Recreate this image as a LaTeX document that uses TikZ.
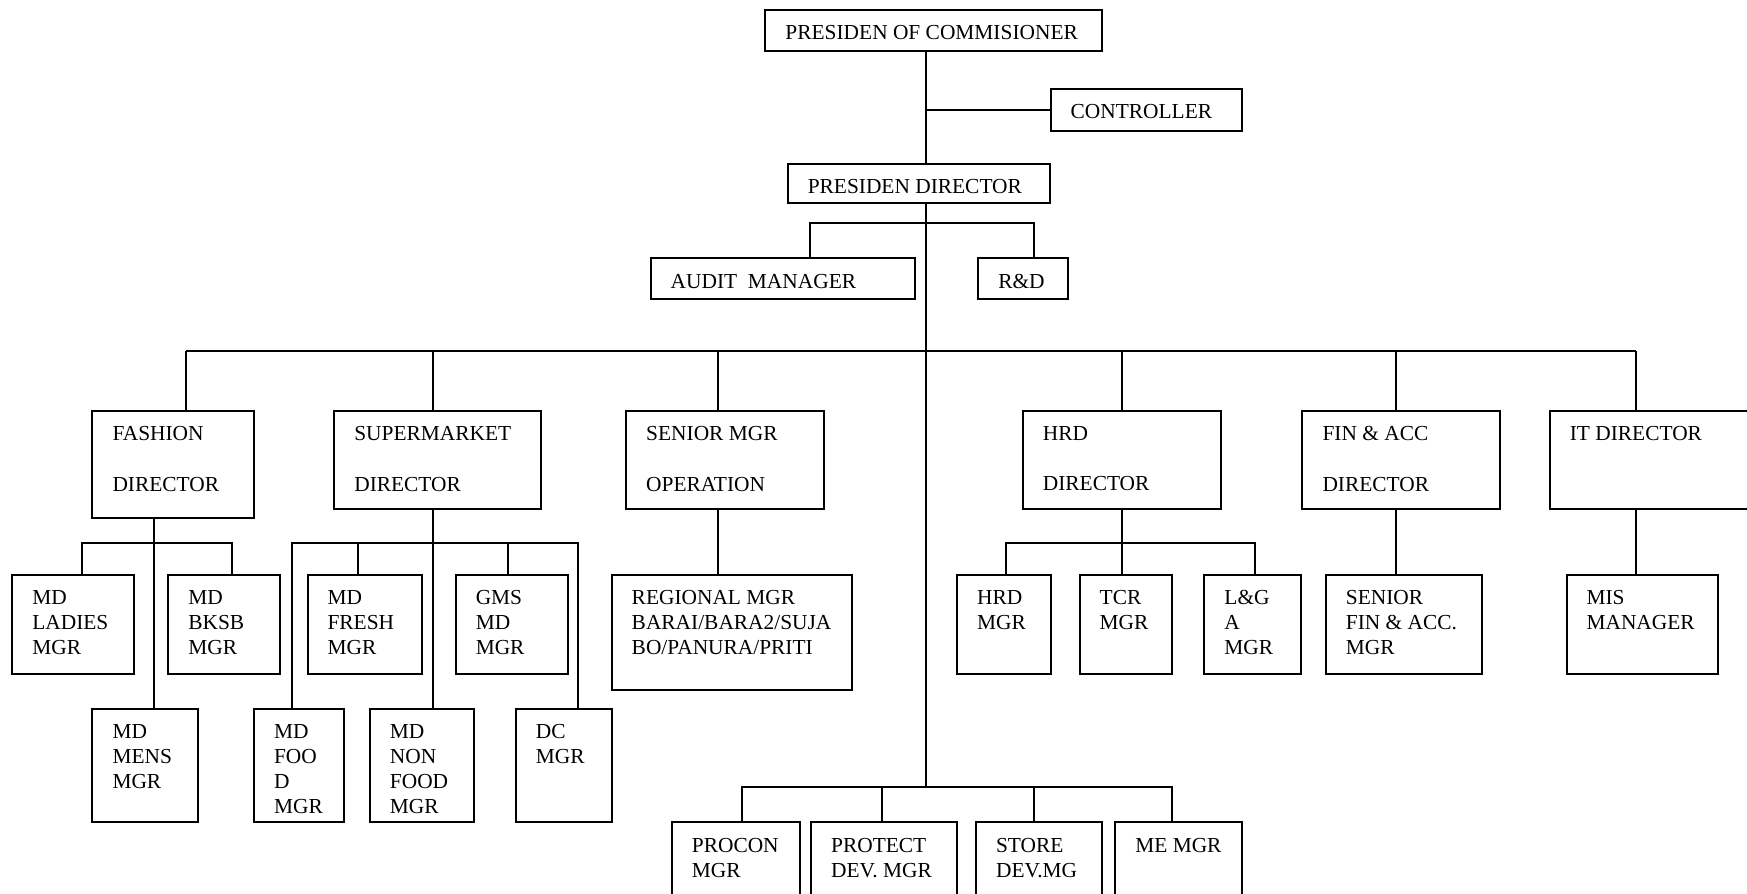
\documentclass[tikz,border=0pt]{standalone}
\usepackage{fontspec}
\setmainfont{Liberation Serif}
\tikzset{
  orgframe/.style={draw, line width=0.9pt, inner sep=0pt, outer sep=0pt, anchor=north west, fill=white},
  orglabel/.style={anchor=north west, inner sep=0pt, outer sep=0pt, align=left, font=\fontsize{9.6}{11.25}\selectfont},
  conn/.style={draw, line width=0.9pt}
}
\newcommand\orgbox[6]{%
  \node[orgframe, minimum width={(#4-#2)*0.5pt}, minimum height={(#5-#3)*0.5pt}] (#1) at (#2,#3) {};
  \node[orglabel] (#1-t) at ([shift={(18,14)}]#1.north west) {#6};}
\begin{document}
\begin{tikzpicture}[x=0.5pt,y=-0.5pt]
\useasboundingbox (0,0) rectangle (1568,802);
% boxes
\orgbox{pc}{687}{9}{989}{46}{PRESIDEN OF COMMISIONER}
\orgbox{ctrl}{943}{80}{1115}{118}{CONTROLLER}
\orgbox{pd}{707}{147}{942}{182}{PRESIDEN DIRECTOR}
\orgbox{audit}{584}{232}{821}{268}{AUDIT\ \ MANAGER}
\orgbox{rd}{878}{232}{959}{268}{R\&D}
\orgbox{fashion}{83}{369}{228}{465}{FASHION\\~\\DIRECTOR}
\orgbox{super}{300}{369}{486}{457}{SUPERMARKET\\~\\DIRECTOR}
\orgbox{senior}{562}{369}{740}{457}{SENIOR MGR\\~\\OPERATION}
\orgbox{hrd}{918}{369}{1096}{457}{HRD\\~\\DIRECTOR}
\orgbox{fin}{1169}{369}{1346}{457}{FIN \& ACC\\~\\DIRECTOR}
\orgbox{it}{1391}{369}{1600}{457}{IT DIRECTOR}
\orgbox{ladies}{11}{516}{120}{605}{MD\\LADIES\\MGR}
\orgbox{bksb}{151}{516}{251}{605}{MD\\BKSB\\MGR}
\orgbox{mens}{83}{636}{178}{738}{MD\\MENS\\MGR}
\orgbox{fresh}{276}{516}{379}{605}{MD\\FRESH\\MGR}
\orgbox{gms}{409}{516}{510}{605}{GMS\\MD\\MGR}
\orgbox{food}{228}{636}{309}{738}{MD\\FOO\\D\\MGR}
\orgbox{nonfood}{332}{636}{425}{738}{MD\\NON\\FOOD\\MGR}
\orgbox{dc}{463}{636}{549}{738}{DC\\MGR}
\orgbox{regional}{549}{516}{765}{619}{REGIONAL MGR\\BARAI/BARA2/SUJA\\BO/PANURA/PRITI}
\orgbox{hrdmgr}{859}{516}{943}{605}{HRD\\MGR}
\orgbox{tcr}{969}{516}{1052}{605}{TCR\\MGR}
\orgbox{lga}{1081}{516}{1168}{605}{L\&G\\A\\MGR}
\orgbox{sfin}{1190}{516}{1330}{605}{SENIOR\\FIN \& ACC.\\MGR}
\orgbox{mis}{1406}{516}{1542}{605}{MIS\\MANAGER}
\orgbox{procon}{603}{738}{718}{830}{PROCON\\MGR}
\orgbox{protect}{728}{738}{859}{830}{PROTECT\\DEV. MGR}
\orgbox{store}{876}{738}{989}{830}{STORE\\DEV.MG}
\orgbox{me}{1001}{738}{1115}{830}{ME MGR}
% coordinates
\coordinate (trunk) at (831,706);
\coordinate (arL) at (727,200); \coordinate (arR) at (928,200);
\coordinate (bF) at (167,315); \coordinate (bS) at (389,315); \coordinate (bO) at (644,315);
\coordinate (bH) at (1007,315); \coordinate (bA) at (1253,315); \coordinate (bI) at (1468,315);
\coordinate (fL) at (74,487); \coordinate (fM) at (138,487); \coordinate (fR) at (208,487);
\coordinate (sA) at (262,487); \coordinate (sB) at (321,487); \coordinate (sM) at (389,487);
\coordinate (sC) at (456,487); \coordinate (sD) at (519,487);
\coordinate (hL) at (903,487); \coordinate (hR) at (1126,487);
\coordinate (pA) at (666,706); \coordinate (pB) at (792,706); \coordinate (pC) at (928,706); \coordinate (pD) at (1052,706);
% connectors
\draw[conn] (pc.south -| trunk) -- (pd.north -| trunk);
\draw[conn] (ctrl.west) -- (ctrl.west -| trunk);
\draw[conn] (pd.south -| trunk) -- (trunk);
\draw[conn] (arL |- audit.north) -- (arL) -- (arR) -- (arR |- rd.north);
\draw[conn] (bF) -- (bI);
\foreach \c/\n in {bF/fashion, bS/super, bO/senior, bH/hrd, bA/fin, bI/it}
  \draw[conn] (\c) -- (\c |- \n.north);
\draw[conn] (fM |- fashion.south) -- (fM |- mens.north);
\draw[conn] (fL |- ladies.north) -- (fL) -- (fR) -- (fR |- bksb.north);
\draw[conn] (sM |- super.south) -- (sM |- nonfood.north);
\draw[conn] (sA |- food.north) -- (sA) -- (sD) -- (sD |- dc.north);
\draw[conn] (sB) -- (sB |- fresh.north);
\draw[conn] (sC) -- (sC |- gms.north);
\draw[conn] (bO |- senior.south) -- (bO |- regional.north);
\draw[conn] (bH |- hrd.south) -- (bH |- tcr.north);
\draw[conn] (hL |- hrdmgr.north) -- (hL) -- (hR) -- (hR |- lga.north);
\draw[conn] (bA |- fin.south) -- (bA |- sfin.north);
\draw[conn] (bI |- it.south) -- (bI |- mis.north);
\draw[conn] (pA |- procon.north) -- (pA) -- (pD) -- (pD |- me.north);
\draw[conn] (pB) -- (pB |- protect.north);
\draw[conn] (pC) -- (pC |- store.north);
\end{tikzpicture}
\end{document}
